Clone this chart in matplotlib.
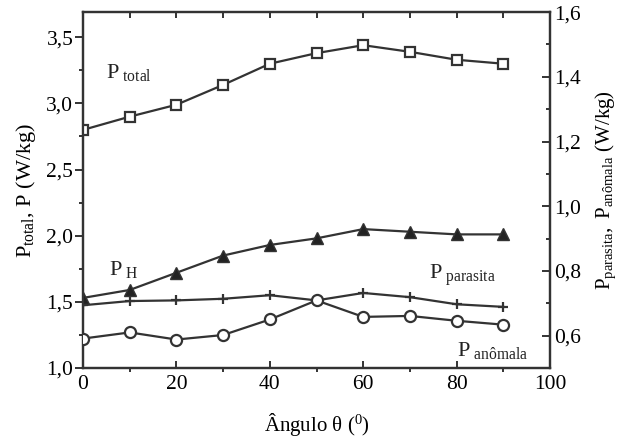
import numpy as np
import matplotlib
matplotlib.use('Agg')
import matplotlib.pyplot as plt
from matplotlib import ticker as mticker

plt.rcParams['font.family'] = ['Liberation Serif', 'DejaVu Serif']
plt.rcParams['mathtext.fontset'] = 'custom'
plt.rcParams['mathtext.rm'] = 'Liberation Serif'
plt.rcParams['mathtext.it'] = 'Liberation Serif'

# dados
angulo = [0, 10, 20, 30, 40, 50, 60, 70, 80, 90]
p_total = [2.80, 2.90, 2.99, 3.14, 3.30, 3.38, 3.44, 3.39, 3.33, 3.30]
p_h = [1.53, 1.59, 1.72, 1.85, 1.93, 1.98, 2.05, 2.03, 2.01, 2.01]
p_parasita = [0.694, 0.707, 0.709, 0.714, 0.725, 0.709, 0.732, 0.719, 0.697, 0.689]
p_anomala = [0.591, 0.610, 0.588, 0.602, 0.650, 0.709, 0.658, 0.661, 0.646, 0.634]

cor = '#333333'

fig = plt.figure(figsize=(6.21, 4.41), dpi=100)
ax = fig.add_axes([0.1337, 0.1655, 0.752, 0.807])
ax2 = ax.twinx()

ax.plot(angulo, p_total, '-s', color=cor, lw=1.6, ms=7.5, mfc='white', mec=cor, mew=1.6, zorder=3)
ax.plot(angulo, p_h, '-^', color=cor, lw=1.6, ms=8, mfc='#222222', mec=cor, zorder=3)
ax2.plot(angulo, p_parasita, '-+', color=cor, lw=1.6, ms=7, mew=1.6, zorder=3)
ax2.plot(angulo, p_anomala, '-o', color=cor, lw=1.6, ms=8, mfc='white', mec=cor, mew=1.6, zorder=3)

ax.set_xlim(0, 100)
ax.set_ylim(1.0, 3.69)
ax2.set_ylim(0.5, 1.6)

virgula = mticker.FuncFormatter(lambda v, p: ('%.1f' % v).replace('.', ','))
ax.set_xticks(range(0, 101, 20))
ax.xaxis.set_minor_locator(mticker.MultipleLocator(10))
ax.yaxis.set_major_locator(mticker.MultipleLocator(0.5))
ax.yaxis.set_minor_locator(mticker.MultipleLocator(0.25))
ax.yaxis.set_major_formatter(virgula)
ax2.set_yticks([0.6, 0.8, 1.0, 1.2, 1.4, 1.6])
ax2.yaxis.set_minor_locator(mticker.MultipleLocator(0.1))
ax2.yaxis.set_major_formatter(virgula)

for s in ['left', 'right', 'top', 'bottom']:
    ax.spines[s].set_color(cor)
    ax.spines[s].set_linewidth(1.6)
    ax2.spines[s].set_color(cor)
    ax2.spines[s].set_linewidth(1.6)

ax.tick_params(axis='y', which='major', direction='out', length=6, width=1.4, color=cor, labelsize=15.5, pad=1)
ax.tick_params(axis='y', which='minor', direction='out', length=3, width=1.4, color=cor)
ax.tick_params(axis='x', which='major', direction='in', length=5, width=1.4, color=cor, labelsize=15.5, pad=5)
ax.tick_params(axis='x', which='minor', direction='out', length=3, width=1.4, color=cor)
ax2.tick_params(axis='y', which='major', direction='in', length=6, width=1.4, color=cor, labelsize=15.5, pad=3)
ax2.tick_params(axis='y', which='minor', direction='in', length=3, width=1.4, color=cor)

topo = ax.secondary_xaxis('top')
topo.set_xticks(range(10, 100, 10))
topo.tick_params(direction='in', length=4, width=1.4, color=cor, labeltop=False)
topo.spines['top'].set_visible(False)

ax.set_xlabel(r'Ângulo θ ($\mathregular{^0}$)', fontsize=15, labelpad=12)
ax.set_ylabel(r'$\mathregular{P_{total}}$, P (W/kg)', fontsize=16, labelpad=6)
ax2.set_ylabel(r'$\mathregular{P_{parasita},\ P_{anômala}}$ (W/kg)', fontsize=15, labelpad=9)

ax.text(5, 3.19, r'$\mathregular{P_{\ total}}$', fontsize=16, color='#222222')
ax.text(5.5, 1.70, r'$\mathregular{P_{\ H}}$', fontsize=16, color='#222222')
ax.text(74, 1.67, r'$\mathregular{P_{\ parasita}}$', fontsize=16, color='#222222')
ax.text(80, 1.09, r'$\mathregular{P_{\ anômala}}$', fontsize=16, color='#222222')

fig.savefig('out.png', dpi=100)
